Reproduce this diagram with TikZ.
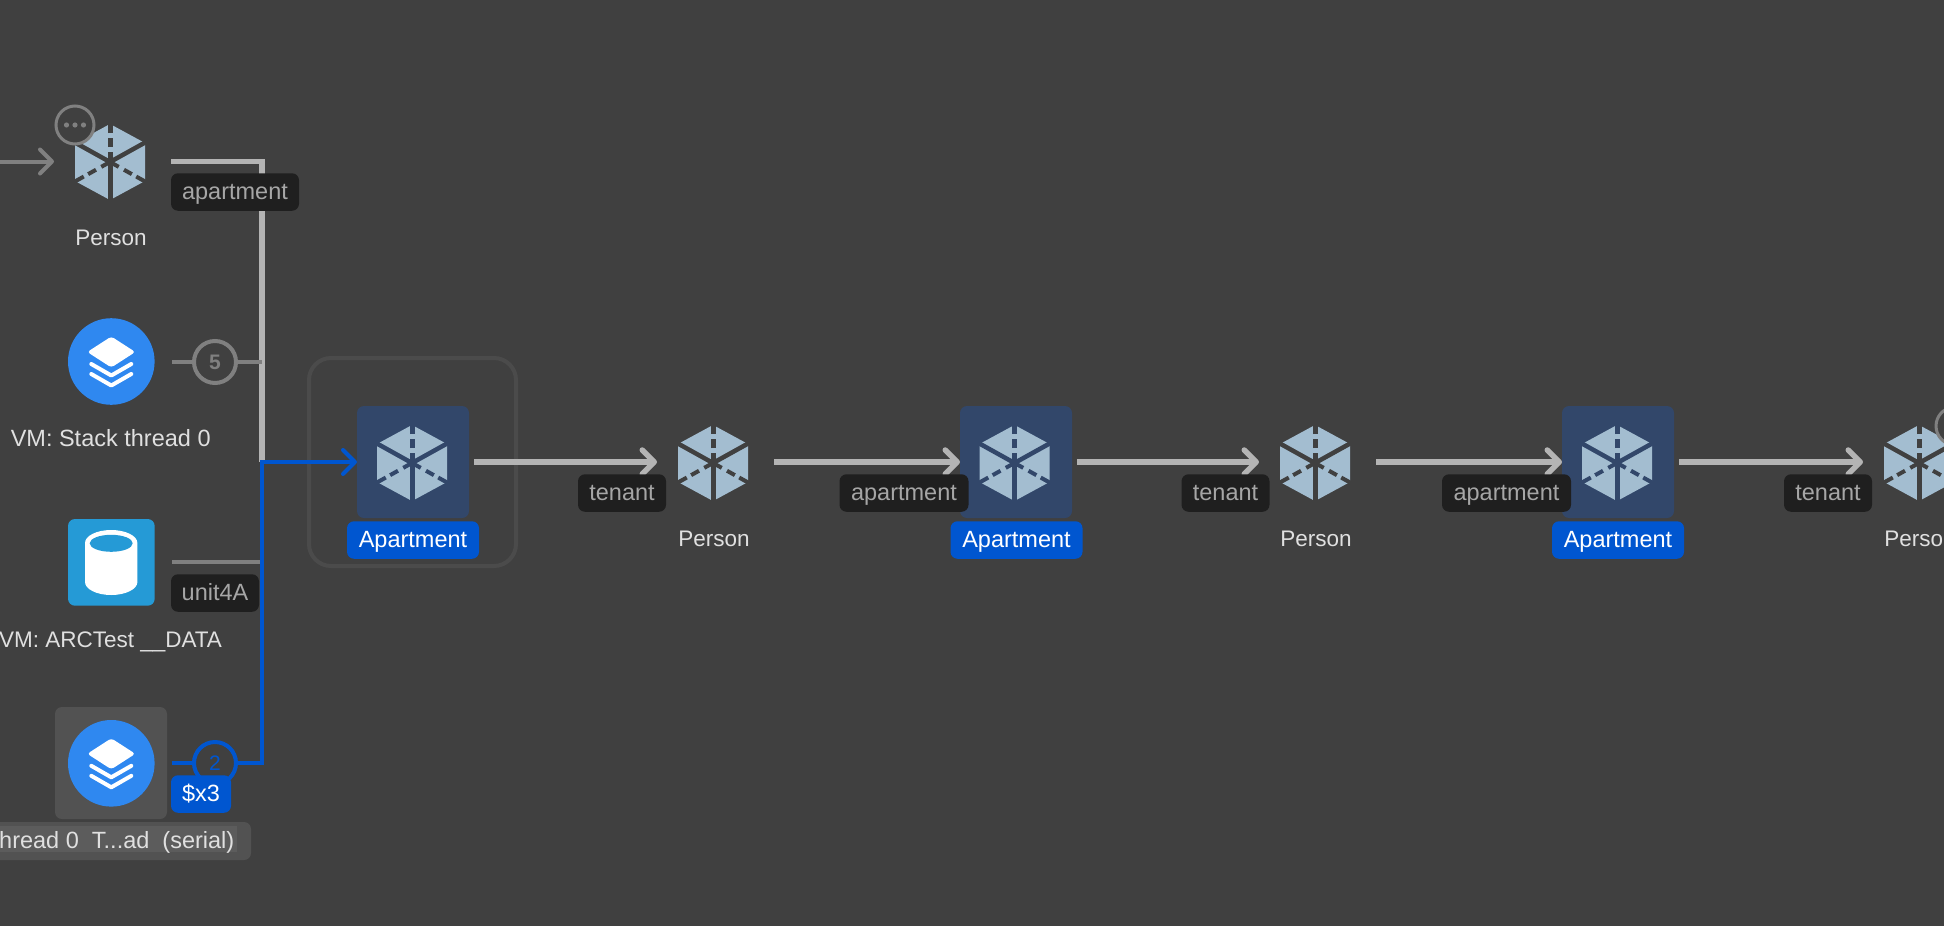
\documentclass[tikz,border=0pt]{standalone}
\usepackage{fontspec}
\setmainfont{Liberation Sans}
\usetikzlibrary{arrows.meta}
\definecolor{bgc}{HTML}{404040}
\definecolor{hexc}{HTML}{A3BDD0}
\definecolor{selc}{HTML}{32476A}
\definecolor{tilec}{HTML}{525252}
\definecolor{selbar}{HTML}{5C5C5C}
\definecolor{bluec}{HTML}{0056D0}
\definecolor{stackc}{HTML}{2F88F0}
\definecolor{dbc}{HTML}{259AD6}
\definecolor{edgec}{HTML}{B4B4B4}
\definecolor{dimc}{HTML}{808080}
\definecolor{pillc}{HTML}{1F1F1F}
\definecolor{pilltxt}{HTML}{A6A6A6}
\definecolor{lblc}{HTML}{E0E0E0}
\definecolor{groupc}{HTML}{4B4B4B}
\newcommand{\lblfont}{\fontsize{23.5}{28}\selectfont}
\newcommand{\narrowfont}{\fontsize{22.5}{27}\selectfont}
\newcommand{\hexicon}[3]{% x, y, cut colour
  \begin{scope}[shift={(#1,#2)}]
    \fill[hexc] (0,-38) -- (35,-19) -- (35,19) -- (0,38) -- (-35,19) -- (-35,-19) -- cycle;
    \draw[#3,line width=5pt] (0,0) -- (0,39);
    \draw[#3,line width=4.5pt] (0,0) -- (36,-20);
    \draw[#3,line width=4.5pt] (0,0) -- (-36,-20);
    \draw[#3,line width=5pt,dash pattern=on 10pt off 5pt on 9pt off 5pt on 11pt] (0,0) -- (0,-39);
    \draw[#3,line width=4pt,dash pattern=on 10pt off 6pt on 9pt off 5pt on 11pt] (0,0) -- (36,20);
    \draw[#3,line width=4pt,dash pattern=on 10pt off 6pt on 9pt off 5pt on 11pt] (0,0) -- (-36,20);
  \end{scope}}
\newcommand{\stackicon}[2]{%
  \begin{scope}[shift={(#1,#2)}]
    \fill[stackc] (0,0) circle (43.3);
    \fill[white,rounded corners=3pt] (0,-25) -- (24,-9.5) -- (0,6) -- (-24,-9.5) -- cycle;
    \draw[white,line width=4pt,line cap=round,line join=round] (-20,2.5) -- (0,14) -- (20,2.5);
    \draw[white,line width=4pt,line cap=round,line join=round] (-20,12.5) -- (0,24) -- (20,12.5);
  \end{scope}}
\tikzset{
  slot/.style={minimum width=112pt,minimum height=112pt,inner sep=0pt,outer sep=0pt},
  seltile/.style={slot,fill=#1,rounded corners=7pt},
  lbl/.style={text=lblc,font=\lblfont,inner sep=0pt,anchor=base},
  pill/.style={fill=pillc,text=pilltxt,font=\lblfont,rounded corners=7pt,inner sep=0pt,minimum height=37.5pt,text height=18pt,text depth=4pt},
  bluepill/.style={pill,fill=bluec,text=white},
  conn/.style={draw=edgec,line width=5.5pt,shorten <=5pt},
  dimconn/.style={draw=dimc,line width=4pt,shorten <=5pt},
  blueconn/.style={draw=bluec,line width=4pt,shorten <=5pt},
  arr/.style={-{Straight Barb[length=12pt,width=24pt,round]}},
  badge/.style={circle,draw=#1,line width=4pt,fill=bgc,minimum size=42pt,inner sep=0pt,text=#1,font=\fontsize{21}{25}\selectfont},
  more/.style={circle,draw=dimc,line width=3pt,fill=bgc,minimum size=38pt,inner sep=0pt},
  group/.style={draw=groupc,line width=4pt,rounded corners=22pt,minimum width=207pt,minimum height=208pt,inner sep=0pt}
}
\begin{document}
\begin{tikzpicture}[x=1pt,y=-1pt]
\useasboundingbox (0,0) rectangle (1944,926);
\clip (0,0) rectangle (1944,926);
\fill[bgc] (0,0) rectangle (1944,926);

% group outline and tiles
\node[group] (grp) at (412.5,462) {};
\node[seltile=selc] (a1) at (413,462) {};
\node[seltile=selc] (a2) at (1016,462) {};
\node[seltile=selc] (a3) at (1618,462) {};
\node[seltile=tilec] (thr) at (111,763) {};
\node[slot] (p1) at (110,161.5) {};
\node[slot] (stk) at (111,362) {};
\node[slot] (db) at (111,562) {};
\node[slot] (p2) at (713,462) {};
\node[slot] (p3) at (1315,462) {};
\node[slot] (p4) at (1919,462) {};
\coordinate (jn) at (262,462);
\coordinate (inl) at (0,161.5);

% connectors
\draw[dimconn,shorten <=0pt,arr] (inl) -- (p1.west);
\draw[conn] (p1.east) -| (jn);
\draw[dimconn] (stk.east) -- (stk.east -| jn);
\draw[dimconn] (db.east) -- (db.east -| jn);
\draw[blueconn,arr] (thr.east) -| (jn) -- (a1.west);
\draw[conn,arr] (a1.east) -- (p2.west);
\draw[conn,arr] (p2.east) -- (a2.west);
\draw[conn,arr] (a2.east) -- (p3.west);
\draw[conn,arr] (p3.east) -- (a3.west);
\draw[conn,arr] (a3.east) -- (p4.west);

% icons
\hexicon{110}{162}{bgc}
\hexicon{412}{463}{selc}
\hexicon{713}{463}{bgc}
\hexicon{1014.5}{463}{selc}
\hexicon{1315}{463}{bgc}
\hexicon{1617}{463}{selc}
\hexicon{1919}{463}{bgc}
\stackicon{111.3}{361.5}
\stackicon{111.3}{763.3}
% database tile
\fill[dbc,rounded corners=7pt] (68,519) rectangle (154.7,605.7);
\fill[white] (85,543) -- (85,582) arc[start angle=180,end angle=0,x radius=26.2,y radius=13] -- (137.4,543) arc[start angle=0,end angle=-180,x radius=26.2,y radius=13] -- cycle;
\fill[dbc] (111.2,543.3) ellipse[x radius=21.5,y radius=8.5];

% badges
\node[more] (m1) at (75,125) {};
\foreach \d in {-8.5,0,8.5} \fill[dimc] (75+\d,125) circle (2.6);
\node[more] (m2) at (1955,426) {};
\node[badge=dimc] (b5) at (215,362) {\textbf{5}};
\node[badge=bluec] (b2) at (215,763) {2};

% labels
\node[lbl,font=\narrowfont] (lp1) at (111,245) {Person};
\node[lbl] (ls) at (110.7,446.7) {VM: Stack thread 0};
\node[lbl,font=\narrowfont] (ld) at (110.5,647.3) {VM: ARCTest \_\_DATA};
\fill[tilec,rounded corners=7pt] (-20,822) rectangle (251,860);
\fill[selbar] (-20,826) rectangle (236.7,852);
\node[lbl,anchor=base east] (lt) at (234.5,848.3) {hread 0\ \ T...ad\ \ (serial)};
\node[lbl,font=\narrowfont] (lp2) at (714,546.7) {Person};
\node[lbl,font=\narrowfont] (lp3) at (1316,546.7) {Person};
\node[lbl,font=\narrowfont] (lp4) at (1920,546.7) {Person};

\node[bluepill,minimum width=132pt] (la1) at (413,540) {Apartment};
\node[bluepill,minimum width=132pt] (la2) at (1016.5,540) {Apartment};
\node[bluepill,minimum width=132pt] (la3) at (1618,540) {Apartment};

\node[pill,minimum width=128pt] (e1) at (235,192) {apartment};
\node[pill,minimum width=88pt] (e2) at (215,593) {unit4A};
\node[bluepill,minimum width=60pt] (e3) at (201,794) {\$x3};
\node[pill,minimum width=88pt] (e4) at (622,493) {tenant};
\node[pill,minimum width=129pt] (e5) at (904,493) {apartment};
\node[pill,minimum width=88pt] (e6) at (1225.5,493) {tenant};
\node[pill,minimum width=129pt] (e7) at (1506.5,493) {apartment};
\node[pill,minimum width=88pt] (e8) at (1828,493) {tenant};
\end{tikzpicture}
\end{document}
